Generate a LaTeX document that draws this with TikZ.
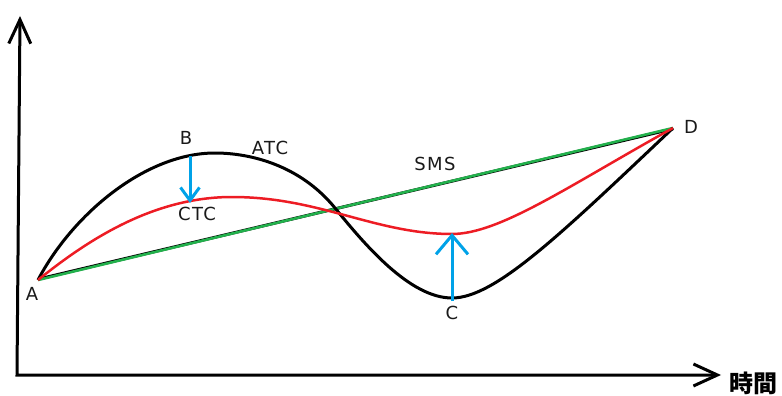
\documentclass[tikz,border=0pt]{standalone}
\usepackage{fontspec}
\setmainfont{DejaVu Sans}[LetterSpace=8]
\newfontfamily\cjk{Noto Sans CJK JP}
\usetikzlibrary{arrows.meta}
\definecolor{paintred}{RGB}{237,28,36}
\definecolor{paintgreen}{RGB}{34,177,76}
\definecolor{paintblue}{RGB}{0,162,232}
\tikzset{
  lbl/.style={font=\fontsize{18}{20}\selectfont, text=black!90, inner sep=0pt},
  barb/.style={line width=3pt, color=paintblue},
}
\begin{document}
\begin{tikzpicture}[x=1pt,y=-1pt]
  \useasboundingbox (0,0) rectangle (782,396);
  % axes
  \coordinate (O) at (17,375);
  \coordinate (ytop) at (20,16);
  \coordinate (xend) at (721,375);
  \draw[line width=3pt, line join=miter,
    {Straight Barb[length=24pt,width=22pt]}-{Straight Barb[length=24pt,width=22pt]}]
    (ytop) -- (O) -- (xend);
  \node[font=\cjk\bfseries\fontsize{24}{26}\selectfont, inner sep=0pt] (t) at (753,383) {時間};
  % points on the curves
  \coordinate (A) at (38,280);
  \coordinate (D) at (673,128);
  \coordinate (P) at (215,153);
  \coordinate (X) at (335,208);
  \coordinate (Q) at (452,298);
  \coordinate (R) at (232,197);
  \coordinate (S) at (452,234);
  % SMS line
  \draw[line width=3pt, black] ([yshift=0.8pt]A) -- ([yshift=-0.8pt]D);
  \draw[line width=2.6pt, paintgreen] (A) -- (D);
  % ATC curve
  \draw[line width=3pt, black] (A) .. controls (72,215) and (145,153) .. (P)
    .. controls (250,153) and (300,165) .. (X)
    .. controls (365,245) and (410,298) .. (Q)
    .. controls (495,298) and (560,235) .. (D);
  % CTC curve
  \draw[line width=2.5pt, paintred] (A) .. controls (90,238) and (155,197) .. (R)
    .. controls (320,197) and (375,234) .. (S)
    .. controls (500,234) and (570,185) .. (D);
  % blue arrows
  \coordinate (Btop) at (190,156);
  \coordinate (Bend) at (190,203);
  \coordinate (Cbot) at (452,301);
  \coordinate (Cend) at (452,233);
  \draw[barb, -{Straight Barb[length=13pt,width=19pt]}] (Btop) -- (Bend);
  \draw[barb, -{Straight Barb[length=19pt,width=32pt]}] (Cbot) -- (Cend);
  % labels
  \node[lbl] (la) at (32,294) {A};
  \node[lbl] (lb) at (186,138) {B};
  \node[lbl] (lc) at (452,313) {C};
  \node[lbl] (ld) at (691,127) {D};
  \node[lbl] (latc) at (270,148) {ATC};
  \node[lbl] (lctc) at (197,214) {CTC};
  \node[lbl] (lsms) at (435,164) {SMS};
\end{tikzpicture}
\end{document}
